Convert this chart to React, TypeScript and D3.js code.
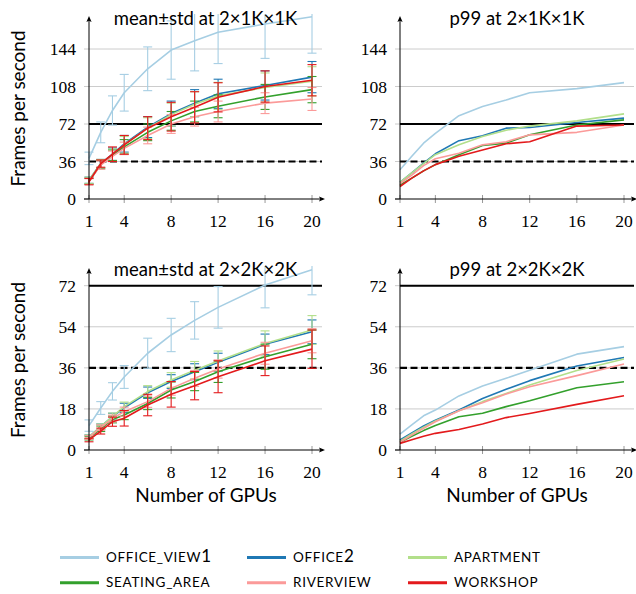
import React from "react";
import * as d3 from "d3";

// ---------- data ----------
const gpus = [1, 2, 3, 4, 6, 8, 10, 12, 16, 20];
const xTickValues = [1, 4, 8, 12, 16, 20];
const yTicks1K = [0, 36, 72, 108, 144];
const yTicks2K = [0, 18, 36, 54, 72];
const refSolid = 72;
const refDashed = 36;

const seriesNames = ["OFFICE_VIEW1", "OFFICE2", "APARTMENT", "SEATING_AREA", "RIVERVIEW", "WORKSHOP"];
const seriesColors = ["#a6cee3", "#1f78b4", "#b2df8a", "#33a02c", "#fb9a99", "#e31a1c"];

// mean ± std at 2×1K×1K
const officeView1Mean1K = [39, 64, 85, 102, 125, 143, 152, 160, 168, 175];
const office2Mean1K = [18, 34, 43, 53, 69, 82, 92, 101, 109, 117];
const apartmentMean1K = [18, 34, 42, 52, 68, 81, 91, 99, 107, 113];
const seatingMean1K = [17, 33, 42, 50, 64, 75, 84, 89, 98, 105];
const riverviewMean1K = [17, 32.6, 41, 48.6, 61, 72, 79, 84, 92, 96];
const workshopMean1K = [16.6, 34, 43, 52, 68, 79, 88, 97.6, 108, 114];

const officeView1Std1K = [6, 10, 14, 17.6, 21, 28, 29, 30, 33, 35];
const office2Std1K = [3, 4, 6, 8, 10, 12, 13, 14, 14, 15];
const apartmentStd1K = [3, 4, 6, 8, 10, 11, 12, 13, 14, 14];
const seatingStd1K = [3, 4, 5, 7, 8, 9, 10, 11, 12, 12.6];
const riverviewStd1K = [3, 4, 5, 6, 8, 9, 9, 10, 10, 11];
const workshopStd1K = [3, 3.5, 7, 9, 11, 13.8, 15, 14, 15, 15];

// p99 at 2×1K×1K
const officeView1P99_1K = [28, 41, 53.6, 63, 80, 88.8, 95, 102, 106, 111.7];
const office2P99_1K = [16, 25, 34.5, 43.4, 56, 60.7, 68, 68.6, 73.4, 77.6];
const apartmentP99_1K = [16, 25, 34, 42.5, 52, 60, 66, 70, 75, 81.7];
const seatingP99_1K = [13.4, 20, 27, 33, 42.5, 51.4, 53.6, 61.6, 71, 76];
const riverviewP99_1K = [14.7, 23, 32, 38.6, 44, 52, 55, 61.6, 64, 71];
const workshopP99_1K = [12, 20, 27, 33, 41, 47, 53, 55, 70, 71];

// mean ± std at 2×2K×2K
const officeView1Mean2K = [10.7, 18.4, 25.7, 32, 42.4, 50.4, 56.8, 62.5, 72.3, 79];
const office2Mean2K = [5.8, 10.2, 14.6, 18.5, 25.1, 30, 34.3, 38.4, 46.3, 51.8];
const apartmentMean2K = [5.8, 10.2, 14.6, 19, 25.6, 30.7, 35, 39, 46.7, 52.6];
const seatingMean2K = [5.2, 9.3, 13.4, 15.3, 20.4, 26.3, 30, 34.3, 40.9, 46.3];
const riverviewMean2K = [5.5, 9.8, 13.8, 16.8, 21.2, 27, 31.4, 35.5, 42.4, 47.9];
const workshopMean2K = [4.4, 8.3, 12.4, 13.9, 19.7, 24.4, 28.2, 32.1, 39.1, 44.2];

const officeView1Std2K = [2.5, 2.8, 3.8, 5, 6.6, 7.3, 8.2, 9.1, 10, 11];
const office2Std2K = [0.8, 1.2, 1.5, 2, 2.5, 3, 3.5, 4, 4.5, 5.2];
const apartmentStd2K = [0.8, 1.2, 1.6, 2, 2.6, 3.2, 3.8, 4.4, 5.5, 6.3];
const seatingStd2K = [0.8, 1.2, 1.5, 2, 2.7, 3.5, 4, 4.7, 5.5, 6.3];
const riverviewStd2K = [0.8, 1.2, 1.5, 2, 2.5, 3, 3.5, 4, 4.8, 5.3];
const workshopStd2K = [0.8, 1.3, 2, 3.4, 4.7, 5.6, 6.2, 7, 6.5, 8.4];

// p99 at 2×2K×2K
const officeView1P99_2K = [7, 11, 15, 17.5, 23.7, 28, 31.4, 35, 42, 45.3];
const office2P99_2K = [4.4, 7.5, 10.5, 13, 17.5, 22.6, 26.6, 30.4, 36.8, 40.5];
const apartmentP99_2K = [3.9, 7, 10, 12.7, 17.2, 21.2, 24.8, 28.5, 34.8, 39.9];
const seatingP99_2K = [3.4, 6, 8.5, 10.7, 14.6, 16.1, 19, 21.6, 27.3, 29.9];
const riverviewP99_2K = [3.4, 6.5, 9.5, 12.4, 17.2, 20.7, 24.5, 27.7, 32.6, 37.7];
const workshopP99_2K = [2.9, 4.5, 6, 7.3, 9, 11.4, 14.2, 16, 20, 23.8];

// ---------- layout ----------
const W = 636;
const H = 594;
const SERIF = "'Liberation Serif', 'DejaVu Serif', serif";
const SANS = "Lato, 'Open Sans', sans-serif";

type Panel = {
  title: string;
  left: number;
  xEnd: number;
  right: number;
  bottom: number;
  topTickPx: number;
  axisTop: number;
  ticks: number[];
  means: number[][];
  stds: number[][] | null;
  titleY: number;
};

const panels: Panel[] = [
  {
    title: "mean±std at 2×1K×1K", left: 89, xEnd: 312, right: 322, bottom: 199, topTickPx: 49, axisTop: 18,
    ticks: yTicks1K, titleY: 25,
    means: [officeView1Mean1K, office2Mean1K, apartmentMean1K, seatingMean1K, riverviewMean1K, workshopMean1K],
    stds: [officeView1Std1K, office2Std1K, apartmentStd1K, seatingStd1K, riverviewStd1K, workshopStd1K],
  },
  {
    title: "p99 at 2×1K×1K", left: 400, xEnd: 624, right: 634, bottom: 199, topTickPx: 49, axisTop: 18,
    ticks: yTicks1K, titleY: 25,
    means: [officeView1P99_1K, office2P99_1K, apartmentP99_1K, seatingP99_1K, riverviewP99_1K, workshopP99_1K],
    stds: null,
  },
  {
    title: "mean±std at 2×2K×2K", left: 89, xEnd: 312, right: 322, bottom: 450, topTickPx: 285.7, axisTop: 270,
    ticks: yTicks2K, titleY: 276,
    means: [officeView1Mean2K, office2Mean2K, apartmentMean2K, seatingMean2K, riverviewMean2K, workshopMean2K],
    stds: [officeView1Std2K, office2Std2K, apartmentStd2K, seatingStd2K, riverviewStd2K, workshopStd2K],
  },
  {
    title: "p99 at 2×2K×2K", left: 400, xEnd: 624, right: 634, bottom: 450, topTickPx: 285.7, axisTop: 270,
    ticks: yTicks2K, titleY: 276,
    means: [officeView1P99_2K, office2P99_2K, apartmentP99_2K, seatingP99_2K, riverviewP99_2K, workshopP99_2K],
    stds: null,
  },
];

function PanelView({ p, idx }: { p: Panel; idx: number }) {
  const x = d3.scaleLinear().domain([1, 20]).range([p.left, p.xEnd]);
  const yMaxTick = p.ticks[p.ticks.length - 1];
  const y = d3.scaleLinear().domain([0, yMaxTick]).range([p.bottom, p.topTickPx]);
  const line = d3
    .line<[number, number]>()
    .x((d) => x(d[0]))
    .y((d) => y(d[1]));
  const cap = 4.5;
  const clipId = `clip-${idx}`;
  const clipTop = p.axisTop - 4;
  return (
    <g>
      <defs>
        <clipPath id={clipId}>
          <rect x={p.left - 10} y={clipTop} width={p.right - p.left + 10} height={p.bottom + 10 - clipTop} />
        </clipPath>
      </defs>
      {/* grid */}
      {p.ticks.slice(1).map((t) => (
        <line key={"g" + t} x1={p.left - 5} x2={p.right} y1={y(t)} y2={y(t)} stroke="#cccccc" strokeWidth={1} />
      ))}
      {/* y tick mark at 0 */}
      <line x1={p.left - 5} x2={p.left} y1={y(0)} y2={y(0)} stroke="#999" strokeWidth={1} />
      {/* x ticks */}
      {xTickValues.map((t) => (
        <line key={"xt" + t} x1={x(t)} x2={x(t)} y1={p.bottom - 4} y2={p.bottom + 4} stroke="#999" strokeWidth={1} />
      ))}
      {/* reference lines */}
      <line x1={p.left} x2={p.right} y1={y(refSolid)} y2={y(refSolid)} stroke="#000" strokeWidth={2} />
      <line x1={p.left} x2={p.right} y1={y(refDashed)} y2={y(refDashed)} stroke="#000" strokeWidth={2.2} strokeDasharray="7,3.5" />
      {/* series */}
      <g clipPath={`url(#${clipId})`}>
        {p.means.map((vals, si) => {
          const pts: [number, number][] = gpus.map((g, i) => [g, vals[i]]);
          const col = seriesColors[si];
          return (
            <g key={"s" + si}>
              {p.stds &&
                gpus.map((g, i) => {
                  const s = p.stds![si][i];
                  const cx = x(g);
                  const y1 = y(vals[i] + s);
                  const y2 = y(vals[i] - s);
                  return (
                    <g key={"e" + i} stroke={col} strokeWidth={1.1}>
                      <line x1={cx} x2={cx} y1={y1} y2={y2} />
                      <line x1={cx - cap} x2={cx + cap} y1={y1} y2={y1} />
                      <line x1={cx - cap} x2={cx + cap} y1={y2} y2={y2} />
                    </g>
                  );
                })}
              <path d={line(pts) || ""} fill="none" stroke={col} strokeWidth={1.6} strokeLinejoin="round" />
            </g>
          );
        })}
      </g>
      {/* axes */}
      <line x1={p.left - 5} x2={p.right + 1} y1={p.bottom} y2={p.bottom} stroke="#000" strokeWidth={1} />
      <path d={`M${p.right + 3},${p.bottom} L${p.right - 3},${p.bottom - 2.6} L${p.right - 1.8},${p.bottom} L${p.right - 3},${p.bottom + 2.6} Z`} fill="#000" />
      <line x1={p.left} x2={p.left} y1={p.bottom} y2={p.axisTop + 1} stroke="#000" strokeWidth={1} />
      <path d={`M${p.left},${p.axisTop - 2} L${p.left - 2.6},${p.axisTop + 4} L${p.left},${p.axisTop + 2.8} L${p.left + 2.6},${p.axisTop + 4} Z`} fill="#000" />
      {/* y tick labels */}
      {p.ticks.map((t) => (
        <text key={"yl" + t} x={p.left - 13} y={y(t) + 6} textAnchor="end" fontFamily={SERIF} fontSize={17.5} fill="#000">
          {t}
        </text>
      ))}
      {/* x tick labels */}
      {xTickValues.map((t) => (
        <text key={"xl" + t} x={x(t)} y={p.bottom + 28} textAnchor="middle" fontFamily={SERIF} fontSize={17.5} fill="#000">
          {t}
        </text>
      ))}
      {/* title */}
      <text x={(p.left + p.right) / 2} y={p.titleY} textAnchor="middle" fontFamily={SANS} fontSize={18.5} fill="#000">
        {p.title}
      </text>
    </g>
  );
}

function LegendLabel({ name }: { name: string }) {
  // small-caps look: letters smaller, digits full size
  const parts = name.match(/[0-9]+|[^0-9]+/g) || [];
  return (
    <>
      {parts.map((s, i) =>
        /[0-9]/.test(s) ? (
          <tspan key={i} fontSize={17}>{s}</tspan>
        ) : (
          <tspan key={i} fontSize={13.5}>{s}</tspan>
        )
      )}
    </>
  );
}

export default function App() {
  const legendCols = [60, 247, 408];
  const legendRows = [557.5, 582.7];
  return (
    <svg width={W} height={H} style={{ position: "absolute", left: 0, top: 0, background: "#fff" }}>
      <rect x={0} y={0} width={W} height={H} fill="#fff" />
      {panels.map((p, i) => (
        <PanelView key={i} p={p} idx={i} />
      ))}
      {/* axis labels */}
      <text transform="translate(25,108.5) rotate(-90)" textAnchor="middle" fontFamily={SANS} fontSize={19} fill="#000">
        Frames per second
      </text>
      <text transform="translate(25,360) rotate(-90)" textAnchor="middle" fontFamily={SANS} fontSize={19} fill="#000">
        Frames per second
      </text>
      <text x={206} y={501.7} textAnchor="middle" fontFamily={SANS} fontSize={19} fill="#000">
        Number of GPUs
      </text>
      <text x={517} y={501.7} textAnchor="middle" fontFamily={SANS} fontSize={19} fill="#000">
        Number of GPUs
      </text>
      {/* legend */}
      {seriesNames.map((n, i) => {
        const cx = legendCols[i % 3];
        const cy = legendRows[Math.floor(i / 3)];
        return (
          <g key={n}>
            <line x1={cx} x2={cx + 39} y1={cy} y2={cy} stroke={seriesColors[i]} strokeWidth={3} />
            <text x={cx + 46} y={cy + 4.5} fontFamily={SANS} fill="#000" letterSpacing={0.7}>
              <LegendLabel name={n} />
            </text>
          </g>
        );
      })}
    </svg>
  );
}
